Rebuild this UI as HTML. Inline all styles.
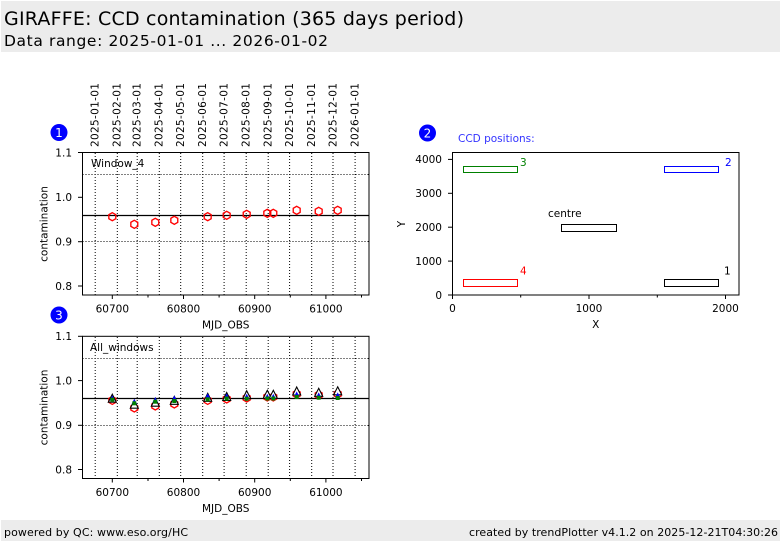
<!DOCTYPE html>
<html><head><meta charset="utf-8"><style>
html,body{margin:0;padding:0;background:#fff;}
svg{display:block;}
text{font-family:"DejaVu Sans","Liberation Sans",sans-serif;}
</style></head><body>
<svg width="782" height="542" viewBox="0 0 782 542" xmlns="http://www.w3.org/2000/svg">
<defs>
<polygon id="hex" points="0,-4 3.46,-2 3.46,2 0,4 -3.46,2 -3.46,-2" fill="none" stroke="#ff0000" stroke-width="1.35"/>
<polygon id="tri" points="0,-4 4,4 -4,4" fill="#fff" stroke="#000" stroke-width="1.1"/>
<polygon id="btri" points="0,-2.6 2.6,2.4 -2.6,2.4" fill="#0000ff"/>
<rect id="gsq" x="-2" y="-2" width="4" height="4" fill="#008000"/>
</defs>
<rect x="0" y="0" width="782" height="542" fill="#fff"/>
<!-- header -->
<rect x="1" y="1" width="779" height="51" fill="#ececec"/>
<text x="4" y="25" font-size="19" textLength="460" fill="#000">GIRAFFE: CCD contamination (365 days period)</text>
<text x="4" y="46" font-size="15.5" textLength="324" fill="#000">Data range: 2025-01-01 ... 2026-01-02</text>
<!-- footer -->
<rect x="1" y="520" width="779" height="21" fill="#ececec"/>
<text x="4" y="536" font-size="11" textLength="184" fill="#000">powered by QC: www.eso.org/HC</text>
<text x="778" y="536" font-size="11" text-anchor="end" textLength="309" fill="#000">created by trendPlotter v4.1.2 on 2025-12-21T04:30:26</text>

<!-- date labels -->
<g font-family="DejaVu Sans Mono, Liberation Mono, monospace" font-size="10.5" fill="#000">
<text transform="translate(98.5,147) rotate(-90)" textLength="64">2025-01-01</text>
<text transform="translate(120.5,147) rotate(-90)" textLength="64">2025-02-01</text>
<text transform="translate(140.5,147) rotate(-90)" textLength="64">2025-03-01</text>
<text transform="translate(162.5,147) rotate(-90)" textLength="64">2025-04-01</text>
<text transform="translate(184,147) rotate(-90)" textLength="64">2025-05-01</text>
<text transform="translate(206,147) rotate(-90)" textLength="64">2025-06-01</text>
<text transform="translate(227.5,147) rotate(-90)" textLength="64">2025-07-01</text>
<text transform="translate(249.5,147) rotate(-90)" textLength="64">2025-08-01</text>
<text transform="translate(271.5,147) rotate(-90)" textLength="64">2025-09-01</text>
<text transform="translate(293,147) rotate(-90)" textLength="64">2025-10-01</text>
<text transform="translate(315,147) rotate(-90)" textLength="64">2025-11-01</text>
<text transform="translate(336.5,147) rotate(-90)" textLength="64">2025-12-01</text>
<text transform="translate(358.5,147) rotate(-90)" textLength="64">2026-01-01</text>
</g>

<!-- badges -->
<circle cx="59" cy="132.5" r="8.5" fill="#0000ff"/>
<text x="59" y="137" font-size="12" fill="#fff" text-anchor="middle">1</text>
<circle cx="427.5" cy="133" r="8.5" fill="#0000ff"/>
<text x="427.5" y="137.5" font-size="12" fill="#fff" text-anchor="middle">2</text>
<circle cx="59" cy="315" r="8.5" fill="#0000ff"/>
<text x="59" y="319.5" font-size="12" fill="#fff" text-anchor="middle">3</text>

<!-- ===== PLOT 1 ===== -->
<g>
<g stroke="#000" stroke-width="1" stroke-dasharray="1,2" fill="none">
<line x1="95.2" y1="153" x2="95.2" y2="295"/>
<line x1="117.3" y1="153" x2="117.3" y2="295"/>
<line x1="137.2" y1="153" x2="137.2" y2="295"/>
<line x1="159.3" y1="153" x2="159.3" y2="295"/>
<line x1="180.7" y1="153" x2="180.7" y2="295"/>
<line x1="202.7" y1="153" x2="202.7" y2="295"/>
<line x1="224.1" y1="153" x2="224.1" y2="295"/>
<line x1="246.2" y1="153" x2="246.2" y2="295"/>
<line x1="268.2" y1="153" x2="268.2" y2="295"/>
<line x1="289.6" y1="153" x2="289.6" y2="295"/>
<line x1="311.7" y1="153" x2="311.7" y2="295"/>
<line x1="333.0" y1="153" x2="333.0" y2="295"/>
<line x1="355.1" y1="153" x2="355.1" y2="295"/>
<line x1="82.5" y1="174.5" x2="369" y2="174.5"/>
<line x1="82.5" y1="241.5" x2="369" y2="241.5"/>
</g>
<line x1="82.5" y1="215.5" x2="369" y2="215.5" stroke="#000" stroke-width="1.2"/>
<rect x="82.5" y="152.5" width="286.5" height="142.5" fill="none" stroke="#000" stroke-width="1"/>
<g stroke="#000" stroke-width="1">
<line x1="78" y1="152.5" x2="82.5" y2="152.5"/>
<line x1="78" y1="197.3" x2="82.5" y2="197.3"/>
<line x1="78" y1="241.7" x2="82.5" y2="241.7"/>
<line x1="78" y1="286" x2="82.5" y2="286"/>
<line x1="112.3" y1="295" x2="112.3" y2="299"/>
<line x1="183.5" y1="295" x2="183.5" y2="299"/>
<line x1="254.7" y1="295" x2="254.7" y2="299"/>
<line x1="325.9" y1="295" x2="325.9" y2="299"/>
<line x1="148" y1="295" x2="148" y2="297.5"/>
<line x1="219.1" y1="295" x2="219.1" y2="297.5"/>
<line x1="290.3" y1="295" x2="290.3" y2="297.5"/>
<line x1="361.5" y1="295" x2="361.5" y2="297.5"/>
</g>
<g font-size="10.5" fill="#000" text-anchor="end">
<text x="72" y="156.3">1.1</text>
<text x="72" y="201.1">1.0</text>
<text x="72" y="245.5">0.9</text>
<text x="72" y="289.8">0.8</text>
</g>
<g font-size="10.5" fill="#000" text-anchor="middle">
<text x="112.3" y="312.3">60700</text>
<text x="183.5" y="312.3">60800</text>
<text x="254.7" y="312.3">60900</text>
<text x="325.9" y="312.3">61000</text>
<text x="225.7" y="328.5">MJD_OBS</text>
</g>
<text transform="translate(47.5,224) rotate(-90)" font-size="10.5" text-anchor="middle" fill="#000">contamination</text>
<text x="91" y="167" font-size="10.5" fill="#000">Window_4</text>
<use href="#hex" x="112.3" y="216.7"/>
<use href="#hex" x="134.3" y="224.3"/>
<use href="#hex" x="155.3" y="222.3"/>
<use href="#hex" x="174.3" y="220.3"/>
<use href="#hex" x="207.7" y="216.7"/>
<use href="#hex" x="226.7" y="215.3"/>
<use href="#hex" x="246.7" y="214.3"/>
<use href="#hex" x="267.3" y="213.3"/>
<use href="#hex" x="273.3" y="213.3"/>
<use href="#hex" x="296.7" y="210.3"/>
<use href="#hex" x="318.7" y="211.3"/>
<use href="#hex" x="337.7" y="210.3"/>
</g>

<!-- ===== PLOT 3 ===== -->
<g>
<g stroke="#000" stroke-width="1" stroke-dasharray="1,2" fill="none">
<line x1="95.2" y1="337" x2="95.2" y2="478.5"/>
<line x1="117.3" y1="337" x2="117.3" y2="478.5"/>
<line x1="137.2" y1="337" x2="137.2" y2="478.5"/>
<line x1="159.3" y1="337" x2="159.3" y2="478.5"/>
<line x1="180.7" y1="337" x2="180.7" y2="478.5"/>
<line x1="202.7" y1="337" x2="202.7" y2="478.5"/>
<line x1="224.1" y1="337" x2="224.1" y2="478.5"/>
<line x1="246.2" y1="337" x2="246.2" y2="478.5"/>
<line x1="268.2" y1="337" x2="268.2" y2="478.5"/>
<line x1="289.6" y1="337" x2="289.6" y2="478.5"/>
<line x1="311.7" y1="337" x2="311.7" y2="478.5"/>
<line x1="333.0" y1="337" x2="333.0" y2="478.5"/>
<line x1="355.1" y1="337" x2="355.1" y2="478.5"/>
<line x1="82.5" y1="358.5" x2="369" y2="358.5"/>
<line x1="82.5" y1="425.5" x2="369" y2="425.5"/>
</g>
<line x1="82.5" y1="398.5" x2="369" y2="398.5" stroke="#000" stroke-width="1.2"/>
<rect x="82.5" y="336.3" width="286.5" height="142.2" fill="none" stroke="#000" stroke-width="1"/>
<g stroke="#000" stroke-width="1">
<line x1="78" y1="336.3" x2="82.5" y2="336.3"/>
<line x1="78" y1="380.6" x2="82.5" y2="380.6"/>
<line x1="78" y1="425.3" x2="82.5" y2="425.3"/>
<line x1="78" y1="469.5" x2="82.5" y2="469.5"/>
<line x1="112.3" y1="478.5" x2="112.3" y2="482.5"/>
<line x1="183.5" y1="478.5" x2="183.5" y2="482.5"/>
<line x1="254.7" y1="478.5" x2="254.7" y2="482.5"/>
<line x1="325.9" y1="478.5" x2="325.9" y2="482.5"/>
<line x1="148" y1="478.5" x2="148" y2="481"/>
<line x1="219.1" y1="478.5" x2="219.1" y2="481"/>
<line x1="290.3" y1="478.5" x2="290.3" y2="481"/>
<line x1="361.5" y1="478.5" x2="361.5" y2="481"/>
</g>
<g font-size="10.5" fill="#000" text-anchor="end">
<text x="72" y="340.1">1.1</text>
<text x="72" y="384.4">1.0</text>
<text x="72" y="429.1">0.9</text>
<text x="72" y="473.3">0.8</text>
</g>
<g font-size="10.5" fill="#000" text-anchor="middle">
<text x="112.3" y="496">60700</text>
<text x="183.5" y="496">60800</text>
<text x="254.7" y="496">60900</text>
<text x="325.9" y="496">61000</text>
<text x="225.7" y="512">MJD_OBS</text>
</g>
<text transform="translate(47.5,407.5) rotate(-90)" font-size="10.5" text-anchor="middle" fill="#000">contamination</text>
<text x="90" y="351" font-size="10.5" fill="#000">All_windows</text>
<use href="#hex" x="112.3" y="400.4"/>
<use href="#hex" x="134.3" y="408"/>
<use href="#hex" x="155.3" y="406"/>
<use href="#hex" x="174.3" y="404"/>
<use href="#hex" x="207.7" y="400.4"/>
<use href="#hex" x="226.7" y="399"/>
<use href="#hex" x="246.7" y="398"/>
<use href="#hex" x="267.3" y="397"/>
<use href="#hex" x="273.3" y="397"/>
<use href="#hex" x="296.7" y="394"/>
<use href="#hex" x="318.7" y="395"/>
<use href="#hex" x="337.7" y="394"/>
<use href="#tri" x="112.3" y="398.2"/>
<use href="#tri" x="134.3" y="404.2"/>
<use href="#tri" x="155.3" y="402.2"/>
<use href="#tri" x="174.3" y="400.3"/>
<use href="#tri" x="207.7" y="397.3"/>
<use href="#tri" x="226.7" y="396.5"/>
<use href="#tri" x="246.7" y="394.7"/>
<use href="#tri" x="267.3" y="394.3"/>
<use href="#tri" x="273.3" y="394.3"/>
<use href="#tri" x="296.7" y="391"/>
<use href="#tri" x="318.7" y="392.3"/>
<use href="#tri" x="337.7" y="390.8"/>
<use href="#btri" x="112.3" y="398"/>
<use href="#btri" x="134.3" y="401.5"/>
<use href="#btri" x="155.3" y="399.7"/>
<use href="#btri" x="174.3" y="398.2"/>
<use href="#btri" x="207.7" y="396"/>
<use href="#btri" x="226.7" y="396"/>
<use href="#btri" x="246.7" y="396.3"/>
<use href="#btri" x="267.3" y="396.5"/>
<use href="#btri" x="273.3" y="396.5"/>
<use href="#btri" x="296.7" y="394"/>
<use href="#btri" x="318.7" y="395"/>
<use href="#btri" x="337.7" y="395"/>
<use href="#gsq" x="112.3" y="399.7"/>
<use href="#gsq" x="134.3" y="403.3"/>
<use href="#gsq" x="155.3" y="401.7"/>
<use href="#gsq" x="174.3" y="401"/>
<use href="#gsq" x="207.7" y="399.3"/>
<use href="#gsq" x="226.7" y="398.5"/>
<use href="#gsq" x="246.7" y="398.7"/>
<use href="#gsq" x="267.3" y="398.5"/>
<use href="#gsq" x="273.3" y="398.5"/>
<use href="#gsq" x="296.7" y="397"/>
<use href="#gsq" x="318.7" y="397.7"/>
<use href="#gsq" x="337.7" y="398"/>
</g>

<!-- ===== PLOT 2 ===== -->
<g>
<text x="458" y="142" font-size="10.5" fill="#3333ff">CCD positions:</text>
<rect x="452.5" y="152.5" width="286.5" height="142.5" fill="none" stroke="#000" stroke-width="1"/>
<g stroke="#000" stroke-width="1">
<line x1="448" y1="159.4" x2="452.5" y2="159.4"/>
<line x1="448" y1="193.3" x2="452.5" y2="193.3"/>
<line x1="448" y1="227.2" x2="452.5" y2="227.2"/>
<line x1="448" y1="261.1" x2="452.5" y2="261.1"/>
<line x1="448" y1="295" x2="452.5" y2="295"/>
<line x1="452.5" y1="295" x2="452.5" y2="299"/>
<line x1="589" y1="295" x2="589" y2="299"/>
<line x1="725.5" y1="295" x2="725.5" y2="299"/>
<line x1="520.7" y1="295" x2="520.7" y2="297.5"/>
<line x1="657.3" y1="295" x2="657.3" y2="297.5"/>
</g>
<g font-size="10.5" fill="#000" text-anchor="end">
<text x="442" y="163.2">4000</text>
<text x="442" y="197.1">3000</text>
<text x="442" y="231">2000</text>
<text x="442" y="264.9">1000</text>
<text x="442" y="298.8">0</text>
</g>
<g font-size="10.5" fill="#000" text-anchor="middle">
<text x="452.5" y="312">0</text>
<text x="589" y="312">1000</text>
<text x="725.5" y="312">2000</text>
<text x="595.7" y="328">X</text>
</g>
<text transform="translate(405,224) rotate(-90)" font-size="10.5" text-anchor="middle" fill="#000">Y</text>
<rect x="463.5" y="166.5" width="54" height="6" fill="none" stroke="#008000" stroke-width="1"/>
<rect x="664.5" y="166.5" width="54" height="6" fill="none" stroke="#0000ff" stroke-width="1"/>
<rect x="561.5" y="224.5" width="55" height="7" fill="none" stroke="#000" stroke-width="1"/>
<rect x="463.5" y="279.5" width="54" height="7" fill="none" stroke="#ff0000" stroke-width="1"/>
<rect x="664.5" y="279.5" width="54" height="7" fill="none" stroke="#000" stroke-width="1"/>
<text x="520" y="166" font-size="10.5" fill="#008000">3</text>
<text x="725" y="166" font-size="10.5" fill="#0000ff">2</text>
<text x="520" y="274.5" font-size="10.5" fill="#ff0000">4</text>
<text x="724" y="274.5" font-size="10.5" fill="#000">1</text>
<text x="548" y="217" font-size="10.5" fill="#000">centre</text>
</g>
</svg>
</body></html>
